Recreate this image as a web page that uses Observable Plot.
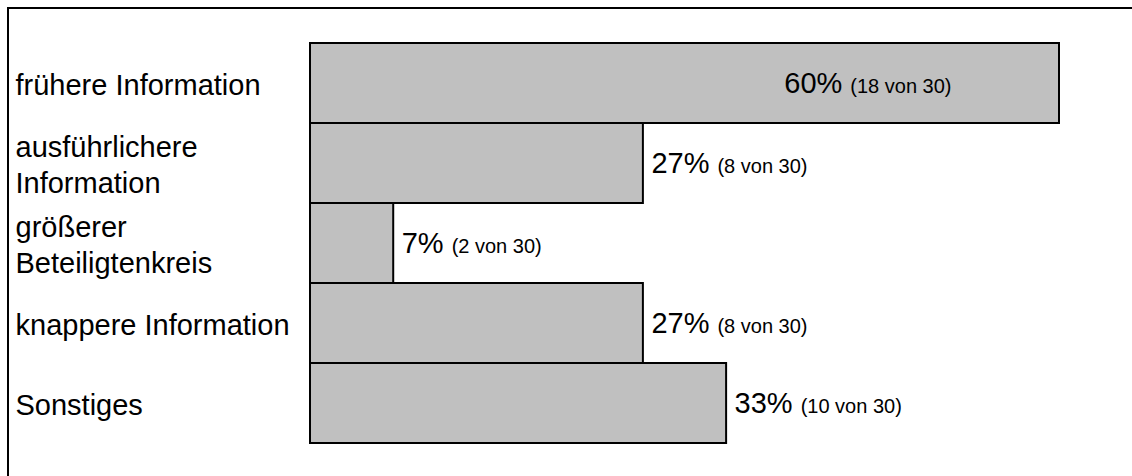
<!DOCTYPE html>
<html><head><meta charset="utf-8">
<script src="https://cdn.jsdelivr.net/npm/d3@7"></script>
<script src="https://cdn.jsdelivr.net/npm/@observablehq/plot@0.6"></script>
<style>
body{margin:0;background:#fff;}
#wrap{position:relative;width:1132px;height:476px;overflow:hidden;}
#chart svg{display:block;}
#frame{position:absolute;left:7px;top:7px;right:-10px;bottom:-10px;border-top:2px solid #000;border-left:2px solid #000;pointer-events:none;}
</style></head><body>
<div id="wrap"><div id="chart"></div><div id="frame"></div></div>
<script>
const categories = ["frühere Information", "ausführlichere\nInformation", "größerer\nBeteiligtenkreis", "knappere Information", "Sonstiges"];
const counts = [18, 8, 2, 8, 10];
const total = 30;

const data = categories.map((c, i) => ({category: c, count: counts[i], share: counts[i] / total * 100}));
const maxShare = d3.max(data, d => d.share);
const outside = data.filter(d => d.share < maxShare);
const inside = data.filter(d => d.share === maxShare);
const pctText = d => `${Math.round(d.share)}%`;

const chart = Plot.plot({
  width: 1132, height: 476,
  marginLeft: 310, marginRight: 73, marginTop: 43, marginBottom: 33,
  style: {fontFamily: "'Liberation Sans', Arial, sans-serif", background: "transparent", color: "#000"},
  x: {domain: [0, maxShare], axis: null},
  y: {domain: categories, padding: 0, axis: null},
  marks: [
    Plot.barX(data, {y: "category", x1: 0, x2: "share", fill: "#c0c0c0", stroke: "#000", strokeWidth: 2}),
    Plot.text(data, {y: "category", text: "category", frameAnchor: "left", textAnchor: "start", dx: -295, fontSize: 29, lineHeight: 1.25, fill: "#000"}),
    Plot.text(outside, {y: "category", x: "share", text: pctText, textAnchor: "start", dx: 8, fontSize: 29, fill: "#000"}),
    Plot.text(inside, {y: "category", x: "share", text: pctText, textAnchor: "end", dx: -108, fontSize: 29, fill: "#000"})
  ]
});
document.getElementById("chart").appendChild(chart);

// append the small "(n von N)" part to each percentage label
const ordered = [...outside, ...inside];
const pctNodes = Array.from(chart.querySelectorAll("text")).filter(t => /^\d+%$/.test(t.textContent.trim()));
pctNodes.forEach((t, i) => {
  const d = ordered[i];
  if (!d) return;
  const ts = document.createElementNS("http://www.w3.org/2000/svg", "tspan");
  ts.setAttribute("font-size", 20);
  ts.setAttribute("dx", 8);
  ts.textContent = `(${d.count} von ${total})`;
  t.appendChild(ts);
});
</script>
</body></html>
